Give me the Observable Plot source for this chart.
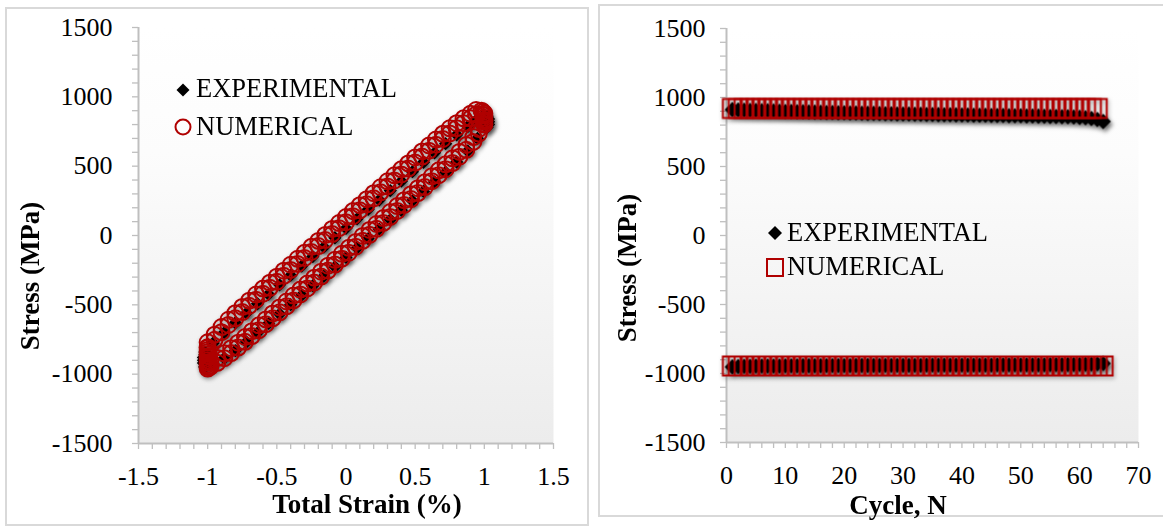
<!DOCTYPE html>
<html><head><meta charset="utf-8">
<script src="https://cdn.jsdelivr.net/npm/d3@7"></script>
<script src="https://cdn.jsdelivr.net/npm/@observablehq/plot@0.6"></script>
<style>
html,body{margin:0;padding:0;background:#fff;}
#root{position:relative;width:1163px;height:527px;overflow:hidden;font-family:"Liberation Serif","Times New Roman",serif;color:#000;}
#root svg{position:absolute;top:0;}
</style></head>
<body>
<div id="root">
<svg width="0" height="0" style="position:absolute;left:0;top:0">
  <defs>
    <linearGradient id="bg" x1="0" y1="0" x2="0" y2="1">
      <stop offset="0" stop-color="#ffffff"/>
      <stop offset="0.3" stop-color="#fcfcfc"/>
      <stop offset="1" stop-color="#ececec"/>
    </linearGradient>
  </defs>
</svg>
</div>
<script>
// ---------- LEFT PANEL DATA: hysteresis loop (Total Strain %, Stress MPa) ----------
const xTicksLeft = [-1.5, -1, -0.5, 0, 0.5, 1, 1.5];
const yTicks = [-1500, -1000, -500, 0, 500, 1000, 1500];

// numerical, upper (unloading) branch: early cycle (outer) and late cycle (inner)
const numUpperStrain = [-1.00,-0.95,-0.90,-0.85,-0.80,-0.75,-0.70,-0.65,-0.60,-0.55,-0.50,-0.45,-0.40,-0.35,-0.30,-0.25,-0.20,-0.15,-0.10,-0.05,0.00,0.05,0.10,0.15,0.20,0.25,0.30,0.35,0.40,0.45,0.50,0.55,0.60,0.65,0.70,0.75,0.80,0.85,0.90,0.94];
const numUpperStressA = [-770,-715,-660,-608,-560,-515,-470,-426,-383,-340,-297,-254,-211,-168,-125,-82,-39,4,47,90,133,176,219,262,305,348,391,434,477,520,563,606,649,692,733,773,810,845,878,905];
const numUpperStressB = [-805,-752,-697,-645,-597,-552,-507,-463,-420,-377,-334,-291,-248,-205,-162,-119,-76,-33,10,53,96,139,182,225,268,311,354,397,440,483,526,569,612,655,696,736,774,810,845,872];
// numerical, lower (loading) branch
const numLowerStrain = [-0.98,-0.93,-0.88,-0.83,-0.78,-0.73,-0.68,-0.63,-0.58,-0.53,-0.48,-0.43,-0.38,-0.33,-0.28,-0.23,-0.18,-0.13,-0.08,-0.03,0.02,0.07,0.12,0.17,0.22,0.27,0.32,0.37,0.42,0.47,0.52,0.57,0.62,0.67,0.72,0.77,0.82,0.87,0.92,0.96,1.00];
const numLowerStressA = [-945,-918,-885,-848,-808,-767,-725,-683,-640,-597,-554,-511,-468,-425,-382,-339,-296,-253,-210,-167,-124,-81,-38,5,48,91,134,177,220,263,306,349,392,435,478,522,568,618,675,735,800];
const numLowerStressB = [-910,-883,-850,-813,-773,-732,-690,-648,-605,-562,-519,-476,-433,-390,-347,-304,-261,-218,-175,-132,-89,-46,-3,40,83,126,169,212,255,298,341,384,427,470,513,557,603,653,710,768,830];
// peaks (reversal points of all cycles)
const numEnds = [[-1.00,-960],[-1.00,-945],[-1.00,-930],[-1.00,-915],[-1.00,-900],[-1.00,-885],[-1.00,-870],[-1.00,-855],[-1.00,-840],[-1.00,-825],[-1.00,-810],[-0.99,-950],[-0.99,-870],[1.00,880],[1.00,865],[1.00,850],[1.00,835],[1.00,820],[1.00,805],[0.99,890],[0.99,870],[0.98,900]];

const expUpper = [[-1.02,-840],[-0.96,-775],[-0.88,-700],[-0.80,-630],[-0.72,-560],[-0.64,-492],[-0.56,-424],[-0.48,-356],[-0.40,-288],[-0.32,-220],[-0.24,-152],[-0.16,-84],[-0.08,-16],[0.00,52],[0.08,120],[0.16,188],[0.24,256],[0.32,324],[0.40,392],[0.48,460],[0.56,528],[0.64,596],[0.72,662],[0.80,726],[0.88,786],[0.94,830],[0.99,860]];
const expLower = [[-1.02,-945],[-0.96,-928],[-0.88,-885],[-0.80,-830],[-0.72,-768],[-0.64,-702],[-0.56,-634],[-0.48,-566],[-0.40,-498],[-0.32,-430],[-0.24,-362],[-0.16,-294],[-0.08,-226],[0.00,-158],[0.08,-90],[0.16,-22],[0.24,46],[0.32,114],[0.40,182],[0.48,250],[0.56,318],[0.64,386],[0.72,456],[0.80,530],[0.88,610],[0.95,700],[1.01,790]];
const expEnds = [[-1.03,-920],[-1.03,-900],[-1.03,-880],[-1.02,-860],[-1.02,-950],[1.03,800],[1.03,820],[1.03,840],[1.02,860],[1.02,780]];

// ---------- RIGHT PANEL DATA: peak stresses vs cycle ----------
const xTicksRight = [0, 10, 20, 30, 40, 50, 60, 70];
const cycles = [1,2,3,4,5,6,7,8,9,10,11,12,13,14,15,16,17,18,19,20,21,22,23,24,25,26,27,28,29,30,31,32,33,34,35,36,37,38,39,40,41,42,43,44,45,46,47,48,49,50,51,52,53,54,55,56,57,58,59,60,61,62,63,64];
const expMax = [912,910,908,906,905,904,903,902,900,899,898,897,896,895,894,893,892,891,890,889,888,887,886,885,885,884,883,882,881,880,880,879,878,877,877,876,875,875,874,873,873,872,872,871,870,870,869,868,868,867,866,866,865,864,863,862,861,860,858,856,853,848,840,826];
const expMin = [-952,-950,-948,-947,-946,-946,-945,-945,-945,-944,-944,-944,-943,-943,-943,-943,-942,-942,-942,-942,-942,-941,-941,-941,-941,-941,-940,-940,-940,-940,-940,-940,-940,-939,-939,-939,-939,-939,-939,-938,-938,-938,-938,-938,-938,-937,-937,-937,-937,-937,-936,-936,-936,-936,-935,-935,-935,-934,-934,-933,-932,-931,-930,-928];
const numMax = [920,920,920,920,920,920,920,920,920,920,920,920,920,920,920,920,920,920,920,920,920,920,920,920,920,920,920,920,920,920,920,920,920,920,920,920,920,920,920,920,920,920,920,920,920,920,920,920,920,920,920,920,920,920,920,920,920,920,920,920,920,920,920];
const numMin = [-945,-945,-945,-945,-945,-945,-945,-945,-945,-945,-945,-945,-945,-945,-945,-945,-945,-945,-945,-945,-945,-945,-945,-945,-945,-945,-945,-945,-945,-945,-945,-945,-945,-945,-945,-945,-945,-945,-945,-945,-945,-945,-945,-945,-945,-945,-945,-945,-945,-945,-945,-945,-945,-945,-945,-945,-945,-945,-945,-945,-945,-945,-945,-945];

// ---------- build tables ----------
const toRows = arr => arr.map(([s, p]) => ({s, p}));
const zipRows = (xs, ys) => ys.map((p, i) => ({s: xs[i], p}));
const expLoop = [...toRows(expUpper), ...toRows(expLower), ...toRows(expEnds)];
const numLoop = [
  ...zipRows(numUpperStrain, numUpperStressA), ...zipRows(numUpperStrain, numUpperStressB),
  ...zipRows(numLowerStrain, numLowerStressA), ...zipRows(numLowerStrain, numLowerStressB),
  ...toRows(numEnds)
];
const expCyc = [...expMax.map((v,i)=>({n: cycles[i], p: v})), ...expMin.map((v,i)=>({n: cycles[i], p: v}))];
const numCyc = [...numMax.map((v,i)=>({n: cycles[i], p: v})), ...numMin.map((v,i)=>({n: cycles[i], p: v}))];

const RED = "#b00000";
const AX = "#bfbfbf";
const FONT = "Liberation Serif, Times New Roman, serif";

function axesMarks(xMinor, xMajor, yMinor, padY, padX, x0, y0) {
  return [
    Plot.frame({fill: "url(#bg)", stroke: null}),
    Plot.axisX({ticks: xMinor, tickSize: 6, tickFormat: () => "", stroke: AX, strokeWidth: 1.3, label: null}),
    Plot.axisX({ticks: xMajor, tickSize: 0, tickPadding: padX, tickFormat: d => String(d), fontSize: 26, fill: "#000", label: null}),
    Plot.axisY({ticks: yMinor, tickSize: 6, tickFormat: () => "", stroke: AX, strokeWidth: 1.3, label: null}),
    Plot.axisY({ticks: yTicks, tickSize: 0, tickPadding: padY, tickFormat: d => String(d), fontSize: 26, fill: "#000", label: null}),
    Plot.ruleX([x0], {stroke: AX, strokeWidth: 2}),
    Plot.ruleY([y0], {stroke: AX, strokeWidth: 2})
  ];
}

const yMinor = d3.range(-1500, 1501, 100);

const left = Plot.plot({
  width: 590, height: 527,
  marginLeft: 138, marginRight: 37, marginTop: 27, marginBottom: 84,
  x: {domain: [-1.5, 1.5]},
  y: {domain: [-1500, 1500]},
  style: {fontFamily: FONT, background: "transparent", color: "#000", overflow: "visible"},
  marks: [
    ...axesMarks(d3.range(-15, 16, 1).map(d => d / 10), xTicksLeft, yMinor, 26, 23, -1.5, -1500),
    Plot.dot(expLoop, {x: "s", y: "p", symbol: "diamond2", r: 6, fill: "#000", stroke: null}),
    Plot.dot(numLoop, {x: "s", y: "p", r: 8, stroke: RED, strokeWidth: 2, fill: "none"})
  ]
});
left.style.left = "0px";

const right = Plot.plot({
  width: 573, height: 527,
  marginLeft: 136, marginRight: 25, marginTop: 28, marginBottom: 85,
  x: {domain: [0, 70]},
  y: {domain: [-1500, 1500]},
  style: {fontFamily: FONT, background: "transparent", color: "#000", overflow: "visible"},
  marks: [
    ...axesMarks(d3.range(0, 71, 2), xTicksRight, yMinor, 21, 23, 0, -1500),
    Plot.dot(expCyc, {x: "n", y: "p", symbol: "diamond2", r: 7, fill: "#000", stroke: null}),
    Plot.dot(numCyc, {x: "n", y: "p", symbol: "square", r: 10.7, stroke: RED, strokeWidth: 2, fill: "none"})
  ]
});
right.style.left = "590px";

// drop shadow on markers
for (const svg of [left, right]) {
  const g = svg.querySelectorAll('g[aria-label="dot"]');
  if (g[0]) g[0].style.filter = "drop-shadow(2px 3px 2px rgba(0,0,0,0.55))";
  if (g[1]) g[1].style.filter = "drop-shadow(1px 2px 2px rgba(0,0,0,0.35))";
}

const root = document.getElementById("root");
root.appendChild(left);
root.appendChild(right);

// overlay: panel borders, axis titles, legends
const ns = "http://www.w3.org/2000/svg";
const ov = document.createElementNS(ns, "svg");
ov.setAttribute("width", 1163); ov.setAttribute("height", 527);
ov.style.left = "0px"; ov.style.pointerEvents = "none";
ov.innerHTML = `
<rect x="6" y="8" width="582" height="517" fill="none" stroke="#d9d9d9" stroke-width="2"/>
<rect x="599" y="5" width="570" height="511" fill="none" stroke="#d9d9d9" stroke-width="2"/>
<g font-family="${FONT}" fill="#000">
  <text x="367" y="513" text-anchor="middle" font-weight="bold" font-size="27">Total Strain (%)</text>
  <text transform="translate(39,276) rotate(-90)" text-anchor="middle" font-weight="bold" font-size="27">Stress (MPa)</text>
  <text x="898" y="514" text-anchor="middle" font-weight="bold" font-size="27">Cycle, N</text>
  <text transform="translate(636,268) rotate(-90)" text-anchor="middle" font-weight="bold" font-size="27">Stress (MPa)</text>
  <path d="M183,83.5 L189.5,90 L183,96.5 L176.5,90 Z" fill="#000"/>
  <text x="196" y="97" font-size="26.5">EXPERIMENTAL</text>
  <circle cx="183" cy="127" r="7.5" fill="none" stroke="${RED}" stroke-width="2"/>
  <text x="196" y="135" font-size="26.5">NUMERICAL</text>
  <path d="M775,226 L782,233 L775,240 L768,233 Z" fill="#000"/>
  <text x="787" y="241" font-size="26.5">EXPERIMENTAL</text>
  <rect x="767" y="259" width="16" height="17" fill="none" stroke="${RED}" stroke-width="2"/>
  <text x="787" y="275" font-size="26.5">NUMERICAL</text>
</g>`;
root.appendChild(ov);
</script>
</body></html>
